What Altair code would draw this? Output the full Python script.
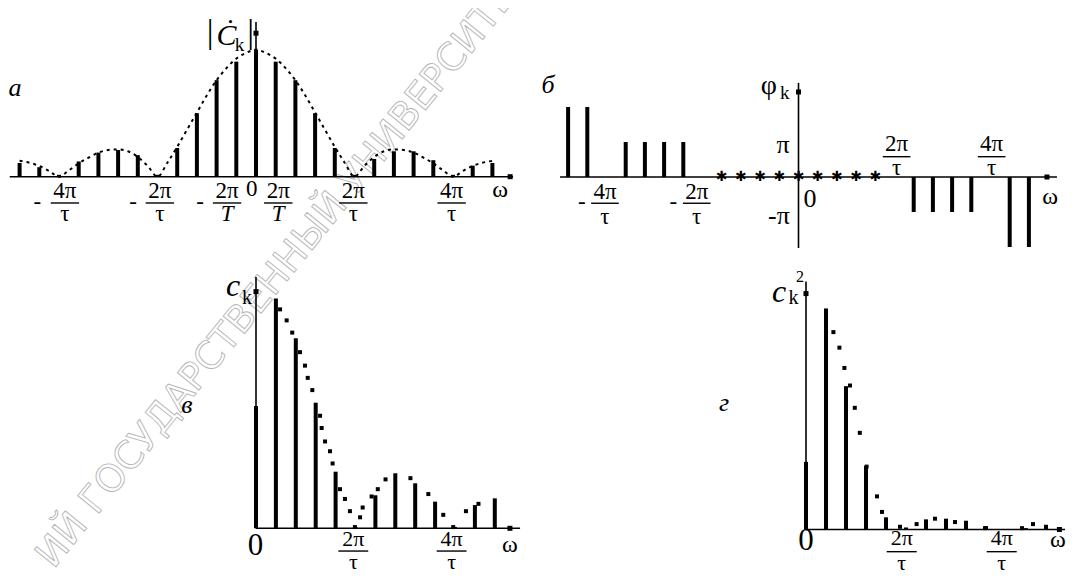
import altair as alt
import pandas as pd

SERIF = "Liberation Serif"

# ---------------- data ----------------
# panel a: |C_k| two-sided amplitude spectrum (units of |C_0|)
A_K = [-12, -11, -10, -9, -8, -7, -6, -5, -4, -3, -2, -1, 0,
       1, 2, 3, 4, 5, 6, 7, 8, 9, 10, 11, 12]
A_AMP = [0.108, 0.075, 0.015, 0.12, 0.19, 0.21, 0.17, 0.015, 0.226, 0.50, 0.76, 0.906, 1.0,
         0.906, 0.76, 0.50, 0.226, 0.015, 0.14, 0.20, 0.20, 0.13, 0.015, 0.087, 0.108]
A_ENV_K = [-12, -11.5, -11, -10.5, -10, -9.5, -9, -8.5, -8, -7.5, -7, -6.5, -6, -5.5, -5,
           -4.5, -4, -3.5, -3, -2.5, -2, -1.5, -1, -0.5, 0, 0.5, 1, 1.5, 2, 2.5, 3, 3.5, 4,
           4.5, 5, 5.5, 6, 6.5, 7, 7.5, 8, 8.5, 9, 9.5, 10, 10.5, 11, 11.5, 12]
A_ENV = [0.125, 0.11, 0.085, 0.045, 0.0, 0.05, 0.105, 0.15, 0.19, 0.21, 0.215, 0.2, 0.155,
         0.085, 0.0, 0.11, 0.235, 0.37, 0.505, 0.64, 0.76, 0.855, 0.93, 0.975, 1.0, 0.975,
         0.93, 0.855, 0.76, 0.64, 0.505, 0.37, 0.235, 0.11, 0.0, 0.085, 0.155, 0.2, 0.215,
         0.21, 0.19, 0.15, 0.105, 0.05, 0.0, 0.045, 0.085, 0.11, 0.125]

# panel b: phase spectrum (units of pi)
B_K = [-12, -11, -9, -8, -7, -6, 6, 7, 8, 9, 11, 12]
B_PHI = [2, 2, 1, 1, 1, 1, -1, -1, -1, -1, -2, -2]
B_STAR_K = [-4, -3, -2, -1, 0, 1, 2, 3, 4]

# panel v: one-sided amplitude spectrum c_k
V_K = [0, 1, 2, 3, 4, 5, 6, 7, 8, 9, 10, 11, 12]
V_C = [1.0, 1.88, 1.553, 1.027, 0.463, 0.01, 0.27, 0.45, 0.368, 0.218, 0.01, 0.19, 0.245]
V_DOT_K = [1.21, 1.54, 1.82, 2.21, 2.46, 2.60, 2.83, 3.22, 3.30, 3.47, 3.72, 3.85, 4.22,
           4.47, 4.72, 4.97, 5.23, 5.36, 5.81, 6.12, 6.51, 7.76, 8.66, 9.41, 9.91, 10.55, 11.18]
V_DOT_V = [1.79, 1.70, 1.60, 1.44, 1.33, 1.23, 1.13, 0.92, 0.82, 0.71, 0.63, 0.53, 0.32,
           0.24, 0.14, 0.01, 0.09, 0.17, 0.26, 0.32, 0.40, 0.41, 0.28, 0.11, 0.01, 0.14, 0.20]

# panel g: power spectrum c_k^2
G_K = [0, 1, 2, 3, 4, 5, 6, 7, 8, 9, 10, 11, 12]
G_C2 = [1.0, 3.27, 2.12, 0.94, 0.18, 0.03, 0.15, 0.16, 0.13, 0.05, 0.0, 0.02, 0.07]
G_DOT_K = [1.37, 1.67, 1.92, 2.2, 2.44, 2.69, 3.03, 3.55, 3.80, 4.7, 5.53, 6.45, 7.45,
           8.95, 10.8, 11.35]
G_DOT_V = [2.92, 2.69, 2.39, 2.13, 1.80, 1.43, 0.93, 0.49, 0.26, 0.04, 0.08, 0.16, 0.11,
           0.02, 0.02, 0.08]

# faint diagonal watermark of the scanned page
WM_LEFT = "ИЙ ГОСУДА"
WM_RIGHT = "РСТВЕННЫЙ УНИВЕРСИТЕТ"


# ---------------- helpers ----------------
PANELS = {
    "a": dict(ox=8, oy=8, W=532, H=250, ax=256, ay=176.7, sx=19.7, sy=127),
    "b": dict(ox=540, oy=8, W=526, H=250, ax=798.5, ay=177, sx=19.2, sy=35),
    "v": dict(ox=8, oy=258, W=532, H=315, ax=256, ay=528.3, sx=19.9, sy=122.3),
    "g": dict(ox=540, oy=258, W=526, H=315, ax=806, ay=529.5, sx=20, sy=67.6),
}


def scales(p):
    X = alt.Scale(domain=[(p["ox"] - p["ax"]) / p["sx"], (p["ox"] + p["W"] - p["ax"]) / p["sx"]],
                  nice=False, zero=False)
    Y = alt.Scale(domain=[(p["ay"] - p["oy"] - p["H"]) / p["sy"], (p["ay"] - p["oy"]) / p["sy"]],
                  nice=False, zero=False)
    return X, Y


def enc(X, Y):
    return dict(x=alt.X("x:Q", scale=X, axis=None), y=alt.Y("y:Q", scale=Y, axis=None))


def stems(xs, y0s, y1s, X, Y, w=4.0):
    df = pd.DataFrame({"x": xs, "y": y0s, "y2": y1s})
    return alt.Chart(df).mark_rule(color="black", strokeWidth=w, strokeCap="butt").encode(
        **enc(X, Y), y2="y2:Q")


def hlines(x1s, x2s, ys, X, Y, w=1.5):
    df = pd.DataFrame({"x": x1s, "x2": x2s, "y": ys})
    return alt.Chart(df).mark_rule(color="black", strokeWidth=w, strokeCap="butt").encode(
        **enc(X, Y), x2="x2:Q")


def texts(items, X, Y, italic=False, font=SERIF):
    df = pd.DataFrame(items, columns=["x", "y", "t", "s"])
    return alt.Chart(df).mark_text(
        font=font, fontStyle="italic" if italic else "normal",
        align="center", baseline="middle", color="black").encode(
        **enc(X, Y), text="t:N", size=alt.Size("s:Q", scale=None))


def squares(xs, ys, X, Y, size=25):
    df = pd.DataFrame({"x": xs, "y": ys})
    return alt.Chart(df).mark_square(color="black", size=size, opacity=1).encode(**enc(X, Y))


def watermark(p, X, Y):
    # anchor of the watermark (page pixels), converted to this panel's units
    px, py = 188, 386
    kx = (px - p["ax"]) / p["sx"]
    vy = (p["ay"] - py) / p["sy"]
    layers = []
    for txt, al in ((WM_LEFT, "right"), (WM_RIGHT, "left")):
        df = pd.DataFrame({"x": [kx], "y": [vy], "t": [txt]})
        layers.append(alt.Chart(df).mark_text(
            font="DejaVu Sans", fontSize=38, angle=309, align=al, baseline="middle",
            fill="#ffffff", fillOpacity=0, stroke="#b4b4b4", strokeWidth=0.9, clip=True
        ).encode(**enc(X, Y), text="t:N"))
    return layers


def fraction_parts(centers, nums, dens, ynum, yline, yden, hw, size):
    up, it, lines = [], [], []
    for c, n, d in zip(centers, nums, dens):
        up.append((c, ynum, n, size))
        if d == "T":
            it.append((c, yden, d, size))
        else:
            up.append((c, yden, d, size))
        lines.append((c - hw, c + hw, yline))
    return up, it, lines


# ---------------- panel а ----------------
PA = PANELS["a"]
XA, YA = scales(PA)
fa_up, fa_it, fa_ln = fraction_parts(
    [-9.7, -4.88, -1.47, 1.13, 4.94, 9.93],
    ["4π", "2π", "2π", "2π", "2π", "4π"],
    ["τ", "τ", "T", "T", "τ", "τ"],
    -0.113, -0.207, -0.293, 0.72, 23)
a_up = fa_up + [(-11.1, -0.2, "-", 23), (-6.24, -0.2, "-", 23), (-2.84, -0.2, "-", 23),
                (-0.22, -0.10, "0", 23), (12.39, -0.105, "ω", 24),
                (-2.33, 1.13, "|", 34), (-0.27, 1.13, "|", 34), (-0.84, 1.035, "k", 19)]
a_it = fa_it + [(-12.23, 0.70, "а", 26), (-1.50, 1.11, "Ċ", 30)]
panel_a = alt.layer(
    *watermark(PA, XA, YA),
    hlines([-12.5], [13.05], [0], XA, YA, 1.6),
    stems([0], [0], [1.218], XA, YA, 1.6),
    stems(A_K, [0] * len(A_K), A_AMP, XA, YA, 4),
    alt.Chart(pd.DataFrame({"x": A_ENV_K, "y": A_ENV})).mark_line(
        color="black", strokeWidth=2, strokeDash=[3, 4], interpolate="monotone").encode(**enc(XA, YA)),
    squares([12.9, 0], [0, 1.13], XA, YA),
    hlines([l[0] for l in fa_ln], [l[1] for l in fa_ln], [l[2] for l in fa_ln], XA, YA, 1.4),
    texts(a_up, XA, YA),
    texts(a_it, XA, YA, italic=True),
).properties(width=PA["W"], height=PA["H"])

# ---------------- panel б ----------------
PB = PANELS["b"]
XB, YB = scales(PB)
fb1_up, _, fb1_ln = fraction_parts([-10.08, -5.30], ["4π", "2π"], ["τ", "τ"],
                                   -0.42, -0.75, -1.15, 0.72, 23)
fb2_up, _, fb2_ln = fraction_parts([5.11, 10.06], ["2π", "4π"], ["τ", "τ"],
                                   0.93, 0.58, 0.27, 0.72, 23)
fb_ln = fb1_ln + fb2_ln
b_up = fb1_up + fb2_up + [(-11.29, -0.72, "-", 23), (-6.52, -0.72, "-", 23),
                          (-0.80, 0.92, "π", 26), (-1.02, -1.11, "-π", 26),
                          (0.6, -0.63, "0", 26), (13.1, -0.563, "ω", 24),
                          (-1.55, 2.60, "φ", 28), (-0.72, 2.40, "k", 19)]
b_it = [(-13.05, 2.63, "б", 26)]
panel_b = alt.layer(
    hlines([-12.42], [13.46], [0], XB, YB, 1.6),
    stems([0], [-2.03], [2.69], XB, YB, 1.6),
    stems(B_K, [0] * len(B_K), B_PHI, XB, YB, 4),
    texts([(k, 0, "✱", 14) for k in B_STAR_K], XB, YB, font="DejaVu Sans"),
    squares([12.94, 0], [0, 2.43], XB, YB),
    hlines([l[0] for l in fb_ln], [l[1] for l in fb_ln], [l[2] for l in fb_ln], XB, YB, 1.4),
    texts(b_up, XB, YB),
    texts(b_it, XB, YB, italic=True),
).properties(width=PB["W"], height=PB["H"])

# ---------------- panel в ----------------
PV = PANELS["v"]
XV, YV = scales(PV)
fv_up, _, fv_ln = fraction_parts([4.89, 9.83], ["2π", "4π"], ["τ", "τ"],
                                 -0.09, -0.186, -0.275, 0.75, 22)
v_up = fv_up + [(-0.03, -0.145, "0", 31), (12.76, -0.137, "ω", 24), (-0.45, 1.885, "k", 20)]
v_it = [(-1.15, 1.98, "c", 32), (-3.47, 1.008, "в", 26)]
panel_v = alt.layer(
    *watermark(PV, XV, YV),
    hlines([0], [13.27], [0], XV, YV, 1.6),
    stems([0], [0], [2.055], XV, YV, 1.6),
    stems(V_K, [0] * len(V_K), V_C, XV, YV, 4),
    squares(V_DOT_K, V_DOT_V, XV, YV, 16),
    squares([12.76, 0], [0, 1.935], XV, YV),
    hlines([l[0] for l in fv_ln], [l[1] for l in fv_ln], [l[2] for l in fv_ln], XV, YV, 1.4),
    texts(v_up, XV, YV),
    texts(v_it, XV, YV, italic=True),
).properties(width=PV["W"], height=PV["H"])

# ---------------- panel г ----------------
PG = PANELS["g"]
XG, YG = scales(PG)
fg_up, _, fg_ln = fraction_parts([4.785, 9.785], ["2π", "4π"], ["τ", "τ"],
                                 -0.13, -0.328, -0.49, 0.75, 22)
g_up = fg_up + [(0, -0.17, "0", 31), (12.6, -0.155, "ω", 24),
                (-0.62, 3.43, "k", 20), (-0.30, 3.74, "2", 16)]
g_it = [(-1.35, 3.52, "c", 32), (-4.1, 1.87, "г", 26)]
panel_g = alt.layer(
    hlines([0], [12.95], [0], XG, YG, 1.6),
    stems([0], [0], [3.67], XG, YG, 1.6),
    stems(G_K, [0] * len(G_K), G_C2, XG, YG, 4),
    squares(G_DOT_K, G_DOT_V, XG, YG, 16),
    squares([12.67, 0], [0, 3.49], XG, YG),
    hlines([l[0] for l in fg_ln], [l[1] for l in fg_ln], [l[2] for l in fg_ln], XG, YG, 1.4),
    texts(g_up, XG, YG),
    texts(g_it, XG, YG, italic=True),
).properties(width=PG["W"], height=PG["H"])

chart = alt.concat(panel_a, panel_b, panel_v, panel_g, columns=2, spacing=0,
                   bounds="flush").properties(padding=0).configure_view(stroke=None)

chart.save("out.html", embed_options={"renderer": "svg", "actions": False})
